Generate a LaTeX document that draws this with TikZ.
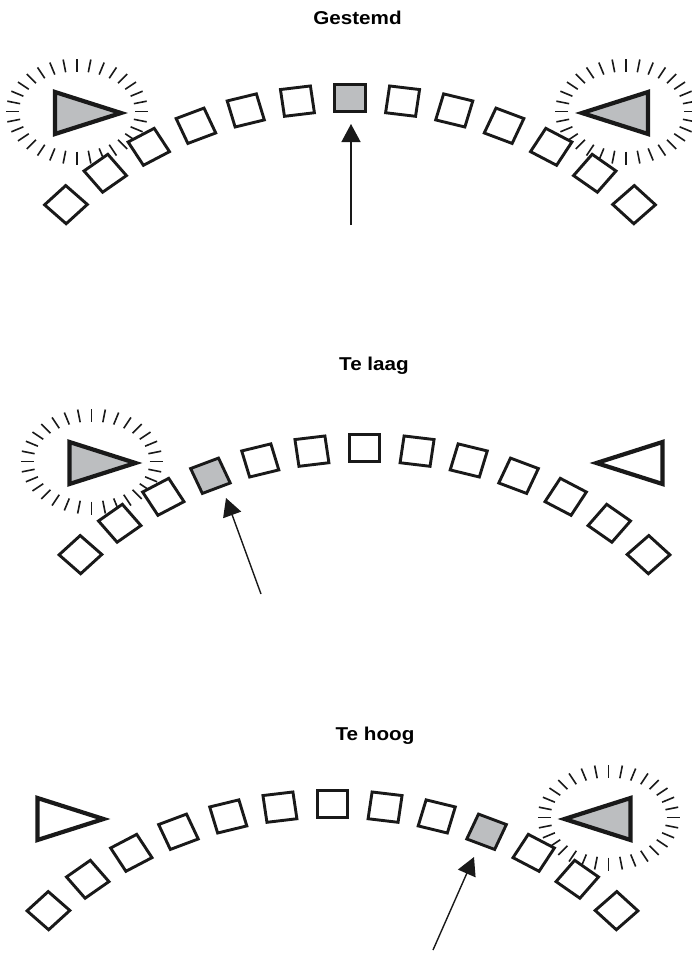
\documentclass[tikz,border=0pt]{standalone}
\usepackage{fontspec}
\newfontfamily\lsans{Liberation Sans}
\usetikzlibrary{arrows.meta}
\definecolor{graybox}{HTML}{BCBEC0}
\tikzset{
  sqbox/.style={draw=black!90, line width=2.9pt, minimum size=27pt, inner sep=0pt, transform shape},
  tri/.style={draw=black!90, line width=4.2pt, miter limit=10, line join=miter},
  tickmark/.style={line width=1.6pt, black!90},
  arr/.style={line width=1.4pt, black!90, -{Triangle[length=18pt,width=19pt]}},
  ttl/.style={font=\lsans\bfseries\fontsize{18.6}{20}\selectfont, anchor=base, inner sep=0pt}
}
% burst of ticks round an ellipse
\newcommand\myburst[2]{%
  \foreach \t in {0,11.25,...,350}{%
    \draw[tickmark] ({#1+58*cos(\t)},{#2+40*sin(\t)}) -- ({#1+71*cos(\t)},{#2+53*sin(\t)});
  }%
}
% arc of 13 squares; #1 prefix, #2 gray index
\newcommand\myarc[2]{%
  \foreach \k in {1,...,13}{%
    \pgfmathsetmacro\th{90+(7-\k)*7.6}%
    \pgfmathsetmacro\sx{350+1.12*355*cos(\th)}%
    \pgfmathsetmacro\sy{453-355*sin(\th)}%
    \pgfmathsetmacro\rt{\th-90}%
    \def\fc{white}%
    \ifnum\k=#2 \def\fc{graybox}\fi
    \begin{scope}[shift={(\sx,\sy)}, xscale=1.12, rotate=\rt]
      \node[sqbox, fill=\fc] (#1s\k) at (0,0) {};
    \end{scope}
  }%
}
\newcommand\lefttri[1]{\draw[tri, fill=#1] (55,92) -- (55,134) -- (121,113) -- cycle;}
\newcommand\righttri[1]{\draw[tri, fill=#1] (648,92) -- (648,134) -- (582,113) -- cycle;}
\begin{document}
\begin{tikzpicture}[x=1pt, y=-1pt]
\useasboundingbox (0,0) rectangle (692,953);
\clip (0,0) rectangle (692,953);
\fill[white] (0,0) rectangle (692,953);

% ---------- Panel 1: Gestemd ----------
\node[ttl] (t1) at (357.5,24.3) {\scalebox{1.11}[1]{Gestemd}};
\begin{scope}
  \myburst{77}{111.5}
  \myburst{626}{111.5}
  \myarc{a}{7}
  \lefttri{graybox}
  \righttri{graybox}
\end{scope}
\coordinate (a1) at (351,225);
\coordinate (a2) at (351,124);
\draw[arr] (a1) -- (a2);

% ---------- Panel 2: Te laag ----------
\node[ttl] (t2) at (374,370.7) {\scalebox{1.11}[1]{Te laag}};
\begin{scope}[shift={(14.5,350)}]
  \myburst{77}{111.5}
  \myarc{b}{4}
  \lefttri{graybox}
  \righttri{white}
\end{scope}
\coordinate (b1) at (261,594);
\coordinate (b2) at (226,498);
\draw[arr] (b1) -- (b2);

% ---------- Panel 3: Te hoog ----------
\node[ttl] (t3) at (375,740) {\scalebox{1.11}[1]{Te hoog}};
\begin{scope}[shift={(-17.5,706)}]
  \myburst{626}{111.5}
  \myarc{c}{10}
  \lefttri{white}
  \righttri{graybox}
\end{scope}
\coordinate (c1) at (433,950);
\coordinate (c2) at (474,857);
\draw[arr] (c1) -- (c2);
\end{tikzpicture}
\end{document}
